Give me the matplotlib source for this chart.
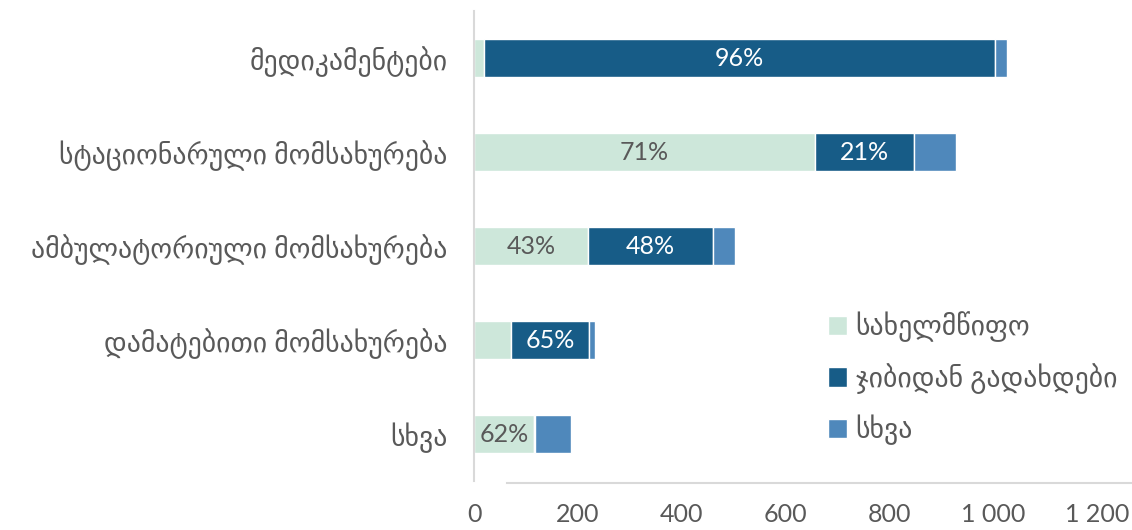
import matplotlib
matplotlib.use("Agg")
import matplotlib.pyplot as plt
from matplotlib.lines import Line2D
import numpy as np

# categories, top to bottom
categories = ["მედიკამენტები", "სტაციონარული მომსახურება",
              "ამბულატორიული მომსახურება", "დამატებითი მომსახურება", "სხვა"]
series_names = ["სახელმწიფო", "ჯიბიდან გადახდები", "სხვა"]

state = [19, 656, 220, 71, 116]
out_of_pocket = [985, 191, 241, 151, 2]
other = [23, 81, 41, 12, 68]

state_labels = ["", "71%", "43%", "", "62%"]
oop_labels = ["96%", "21%", "48%", "65%", ""]

xticks = [0, 200, 400, 600, 800, 1000, 1200]
xtick_labels = ["0", "200", "400", "600", "800", "1 000", "1 200"]

colors = ["#CDE7DA", "#175C87", "#4F88BB"]
gray = "#595959"
fonts = ["Lato", "DejaVu Sans"]

plt.rcParams["font.family"] = fonts

fig = plt.figure(figsize=(11.32, 5.30), dpi=100)
ax = fig.add_axes([474 / 1132, 1 - 481 / 530, 623 / 1132, 470 / 530])

y = np.arange(len(categories))
h = 0.4
left = np.zeros(len(categories))
bars = []
for vals, col, name in zip([state, out_of_pocket, other], colors, series_names):
    b = ax.barh(y, vals, left=left, height=h, color=col, edgecolor="white",
                linewidth=1, label=name)
    bars.append(b)
    left = left + np.array(vals)

for b, labs, tcol in [(bars[0], state_labels, gray), (bars[1], oop_labels, "white")]:
    for rect, lab in zip(b, labs):
        if lab:
            ax.text(rect.get_x() + rect.get_width() / 2, rect.get_y() + rect.get_height() / 2,
                    lab, ha="center", va="center", color=tcol, fontsize=18)

ax.set_xlim(0, 1200)
ax.set_ylim(len(categories) - 0.5, -0.5)
ax.set_yticks(y)
ax.set_yticklabels(categories, fontsize=20, color=gray)
ax.set_xticks(xticks)
ax.set_xticklabels(xtick_labels, fontsize=18, color=gray)
ax.tick_params(axis="both", length=0)
ax.tick_params(axis="y", pad=19)
ax.tick_params(axis="x", pad=16)

for s in ["top", "right", "bottom"]:
    ax.spines[s].set_visible(False)
ax.spines["left"].set_color("#D9D9D9")
ax.spines["left"].set_linewidth(1.5)

# stray baseline under the plot
fig.add_artist(Line2D([507 / 1132, 1.0], [1 - 483 / 530] * 2, color="#D9D9D9",
                      linewidth=1.5, transform=fig.transFigure))

leg = ax.legend(loc="upper left", bbox_to_anchor=(0.55, 0.385), frameon=False,
                fontsize=20, labelcolor=gray, handlelength=0.7, handleheight=0.7,
                handletextpad=0.3, labelspacing=0.75, borderaxespad=0)

fig.savefig("out.png", dpi=100)
